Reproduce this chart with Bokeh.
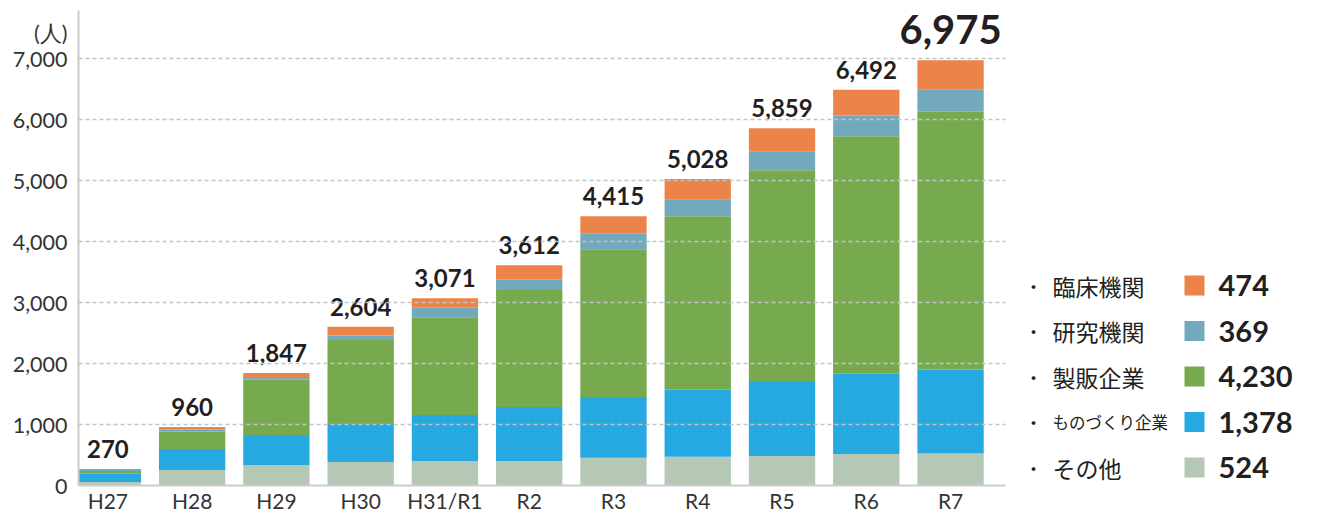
from bokeh.plotting import figure
from bokeh.models import Range1d, FixedTicker, NumeralTickFormatter, ColumnDataSource
from bokeh.layouts import row
from bokeh.embed import file_html
from bokeh.resources import INLINE
from bokeh.core.properties import value

# ---- data ----
years = ["H27", "H28", "H29", "H30", "H31/R1", "R2", "R3", "R4", "R5", "R6", "R7"]
other = [57, 254, 336, 385, 402, 402, 456, 473, 484, 515, 524]          # その他
mono = [136, 344, 492, 623, 754, 885, 995, 1098, 1229, 1318, 1378]     # ものづくり企業
sales = [45, 284, 906, 1377, 1606, 1918, 2426, 2847, 3459, 3897, 4230]  # 製販企業
research = [16, 33, 45, 77, 153, 169, 251, 277, 312, 339, 369]         # 研究機関
clinical = [16, 45, 68, 142, 156, 238, 287, 333, 375, 423, 474]        # 臨床機関
y_ticks = [0, 1000, 2000, 3000, 4000, 5000, 6000, 7000]
unit_label = "(人)"

series_names = ["その他", "ものづくり企業", "製販企業", "研究機関", "臨床機関"]
series_vals = [other, mono, sales, research, clinical]
colors = ["#B4C8B5", "#25A9E0", "#77AA4F", "#73A9BC", "#EC8349"]

LATIN = "Lato"
CJK = "Noto Sans CJK JP"
TEXT_COL = "#231f20"

xs = list(range(len(years)))
data = {"x": xs}
keys = ["s0", "s1", "s2", "s3", "s4"]
for k, v in zip(keys, series_vals):
    data[k] = v
totals = [sum(v[i] for v in series_vals) for i in range(len(years))]
data["total"] = totals
data["label"] = [f"{t:,}" for t in totals]
data["lsize"] = ["24px"] * (len(years) - 1) + ["40px"]
data["loff"] = [-20] * (len(years) - 1) + [-31]
src = ColumnDataSource(data)

x_start = -0.3483
x_end = 10.652
y_end = 7792

p = figure(width=1010, height=515, x_range=Range1d(x_start, x_end), y_range=Range1d(0, y_end),
           toolbar_location=None, output_backend="svg",
           min_border_left=78, min_border_right=5, min_border_top=10, min_border_bottom=0)
p.outline_line_color = None
p.background_fill_color = "white"

p.vbar_stack(keys, x="x", width=0.787, color=colors, line_color=None, source=src)

p.text(x="x", y="total", text="label", source=src, text_align="center", text_baseline="alphabetic",
       text_font=value(LATIN), text_font_style="bold", text_font_size="lsize", y_offset="loff",
       text_color=TEXT_COL)

# axes
p.xaxis.ticker = FixedTicker(ticks=xs)
p.xaxis.major_label_overrides = {i: y for i, y in enumerate(years)}
unit_pos = y_ticks[-1] + 420          # unit label sits just above the top tick
p.yaxis.ticker = FixedTicker(ticks=y_ticks + [unit_pos])
p.yaxis.formatter = NumeralTickFormatter(format="0,0")
p.yaxis.major_label_overrides = {unit_pos: unit_label}
for ax in (p.xaxis, p.yaxis):
    ax.axis_line_color = "#cccccc"
    ax.axis_line_width = 2
    ax.major_tick_line_color = None
    ax.minor_tick_line_color = None
    ax.major_tick_out = 0
    ax.major_tick_in = 0
    ax.minor_tick_out = 0
    ax.major_label_text_font = LATIN
    ax.major_label_text_color = "#333333"
p.xaxis.major_label_text_font_size = "21px"
p.xaxis.major_label_standoff = 2
p.yaxis.major_label_text_font_size = "21.5px"
p.yaxis.major_label_standoff = 11

p.xgrid.grid_line_color = None
p.ygrid.ticker = FixedTicker(ticks=y_ticks[1:])
p.ygrid.grid_line_color = "#c4c4c4"
p.ygrid.grid_line_width = 1.5
p.ygrid.grid_line_dash = "4 3"
p.ygrid.level = "overlay"

# ---- legend figure (coordinates in pixels from its top-left) ----
LW = 1318 - 1010
lf = figure(width=LW, height=515, x_range=Range1d(0, LW), y_range=Range1d(485, 10),
            toolbar_location=None, output_backend="svg", x_axis_type=None, y_axis_type=None,
            min_border_left=0, min_border_right=0, min_border_top=10, min_border_bottom=30)
lf.outline_line_color = None
lf.grid.visible = False

order = [4, 3, 2, 1, 0]
leg_names = [series_names[i] for i in order]
leg_vals = [series_vals[i][-1] for i in order]
leg_cols = [colors[i] for i in order]
row_y = [285 + 45.5 * i for i in range(len(order))]
n = len(order)
leg = ColumnDataSource(dict(
    y=row_y, name=leg_names, val=[f"{v:,}" for v in leg_vals], col=leg_cols,
    bx=[23] * n, tx=[42] * n, sx=[184] * n, vx=[208] * n, bullet=["・"] * n,
    nsize=["23px", "23px", "23px", "16.5px", "23px"],
))
lf.text(x="bx", y="y", text="bullet", source=leg, text_align="center", text_baseline="middle",
        text_font=value(CJK), text_font_size="18px", text_color=TEXT_COL)
lf.text(x="tx", y="y", text="name", source=leg, text_align="left", text_baseline="middle",
        text_font=value(CJK), text_font_size="nsize", text_color=TEXT_COL)
lf.rect(x="sx", y="y", width=20, height=20, color="col", line_color=None, source=leg)
lf.text(x="vx", y="y", text="val", source=leg, text_align="left", text_baseline="middle",
        text_font=value(LATIN), text_font_style="bold", text_font_size="29px", text_color=TEXT_COL)

layout = row(p, lf)
open("out.html", "w").write(file_html(layout, INLINE))
